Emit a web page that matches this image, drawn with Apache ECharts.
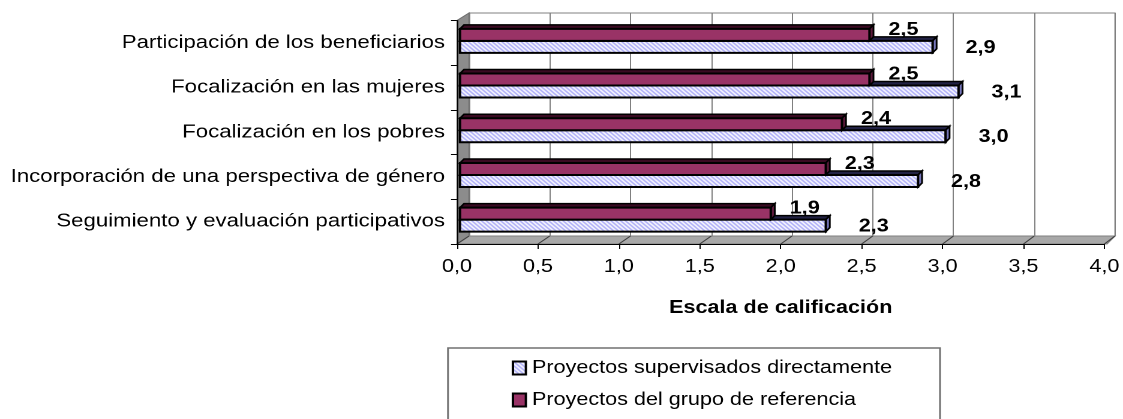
<!DOCTYPE html>
<html>
<head>
<meta charset="utf-8">
<script src="https://cdn.jsdelivr.net/npm/echarts@6/dist/echarts.min.js"></script>
<style>
html, body { margin: 0; padding: 0; background: #fff; overflow: hidden; }
#main { width: 936px; height: 419px; transform: scaleX(1.19979); transform-origin: 0 0; }
</style>
</head>
<body>
<div id="main"></div>
<script>
// datos del gráfico
var categories = [
    'Participación de los beneficiarios',
    'Focalización en las mujeres',
    'Focalización en los pobres',
    'Incorporación de una perspectiva de género',
    'Seguimiento y evaluación participativos'
];
var seriesNames = ['Proyectos supervisados directamente', 'Proyectos del grupo de referencia'];
var directos = [2.92, 3.08, 3.00, 2.83, 2.26];
var referencia = [2.53, 2.53, 2.36, 2.26, 1.92];
var axisMin = 0, axisMax = 4, axisStep = 0.5;
var axisTitle = 'Escala de calificación';

// the picture is stretched horizontally, so the chart is drawn narrower and scaled
var S = 1123 / 936;
var W = 936, H = 419;
var FONT = '"Liberation Sans", Arial, sans-serif';

var front = { left: 457 / S, right: W - 1107 / S, top: 20.5, bottom: H - 244 };
var back = { left: 469 / S, right: W - 1115 / S, top: 13, bottom: H - 236 };

function fmt(v) {
    return v.toFixed(1).replace('.', ',');
}

// hatch pattern for the directly supervised projects
var hatchCanvas = document.createElement('canvas');
hatchCanvas.width = 4;
hatchCanvas.height = 4;
(function () {
    var ctx = hatchCanvas.getContext('2d');
    ctx.fillStyle = '#ffffff';
    ctx.fillRect(0, 0, 4, 4);
    ctx.fillStyle = '#a8a8f8';
    for (var y = 0; y < 4; y++) {
        for (var x = 0; x < 4; x++) {
            var d = ((x - y) % 4 + 4) % 4;
            if (d === 0 || d === 1) ctx.fillRect(x, y, 1, 1);
        }
    }
})();
var hatch = { image: hatchCanvas, repeat: 'repeat' };
var maroon = '#993366';

function barRenderer(upper, fill, topFill, endFill) {
    return function (params, api) {
        var val = api.value(0), cat = api.value(1);
        var p0 = api.coord([0, cat]);
        var p1 = api.coord([val, cat]);
        var shiftX = 3 / S, shiftY = -2;
        var h = 12, dx = 4 / S, dy = 4;
        var x0 = p0[0] + shiftX, x1 = p1[0] + shiftX;
        var cy = p0[1] + shiftY;
        var yTop = upper ? cy - h : cy;
        var yBot = yTop + h;
        var lx, ly;
        if (upper) {
            lx = x1 + dx + 30 / S;
            ly = yTop + 1;
        } else {
            lx = x1 + dx + 44 / S;
            ly = (yTop + yBot) / 2 + 1;
        }
        return {
            type: 'group',
            children: [
                {
                    type: 'polygon',
                    shape: { points: [[x0, yTop], [x1, yTop], [x1 + dx, yTop - dy], [x0 + dx, yTop - dy]] },
                    style: { fill: topFill, stroke: '#000', lineWidth: 1.5 }
                },
                {
                    type: 'polygon',
                    shape: { points: [[x1, yTop], [x1 + dx, yTop - dy], [x1 + dx, yBot - dy], [x1, yBot]] },
                    style: { fill: endFill, stroke: '#000', lineWidth: 1.5 }
                },
                {
                    type: 'rect',
                    shape: { x: x0, y: yTop, width: x1 - x0, height: h },
                    style: { fill: fill, stroke: '#000', lineWidth: 2 }
                },
                {
                    type: 'text',
                    x: lx,
                    y: ly,
                    style: {
                        text: fmt(val),
                        font: 'bold 18px ' + FONT,
                        fill: '#000',
                        align: 'center',
                        verticalAlign: 'middle'
                    }
                }
            ]
        };
    };
}

var chart = echarts.init(document.getElementById('main'), null, { devicePixelRatio: 2 });

chart.setOption({
    animation: false,
    textStyle: { fontFamily: FONT },
    grid: [
        { left: front.left, right: front.right, top: front.top, bottom: front.bottom, show: false },
        {
            left: back.left, right: back.right, top: back.top, bottom: back.bottom,
            show: true, backgroundColor: '#fff', borderColor: '#808080', borderWidth: 1
        }
    ],
    xAxis: [
        {
            type: 'value', gridIndex: 0, min: axisMin, max: axisMax, interval: axisStep, z: 5,
            axisLine: { show: true, lineStyle: { color: '#000', width: 1 } },
            axisTick: { show: true, length: 5, lineStyle: { color: '#000' } },
            axisLabel: { fontSize: 18, color: '#000', margin: 14, formatter: function (v) { return fmt(v); } },
            splitLine: { show: false },
            name: axisTitle,
            nameLocation: 'middle',
            nameGap: 55,
            nameTextStyle: { fontSize: 18, fontWeight: 'bold', color: '#000' }
        },
        {
            type: 'value', gridIndex: 1, min: axisMin, max: axisMax, interval: axisStep,
            axisLine: { show: false }, axisTick: { show: false }, axisLabel: { show: false },
            splitLine: { show: true, lineStyle: { color: '#808080', width: 1 } }
        }
    ],
    yAxis: [
        {
            type: 'category', gridIndex: 0, inverse: true, data: categories, z: 5,
            axisLine: { show: true, lineStyle: { color: '#000', width: 1 } },
            axisTick: { show: true, length: 5, lineStyle: { color: '#000' } },
            axisLabel: { fontSize: 18.5, color: '#000', margin: 10 }
        },
        { type: 'value', gridIndex: 1, show: false, splitLine: { show: false } }
    ],
    legend: {
        orient: 'vertical',
        left: 511.7 / S,
        top: 357,
        padding: 0,
        itemWidth: 13 / S,
        itemHeight: 13,
        itemGap: 10,
        icon: 'rect',
        textStyle: { fontSize: 18, color: '#000', lineHeight: 22 },
        data: [
            { name: seriesNames[0], itemStyle: { color: hatch, borderColor: '#000', borderWidth: 2 } },
            { name: seriesNames[1], itemStyle: { color: maroon, borderColor: '#000', borderWidth: 2 } }
        ]
    },
    series: [
        {
            name: seriesNames[0],
            type: 'custom',
            xAxisIndex: 0, yAxisIndex: 0,
            clip: false,
            itemStyle: { color: hatch },
            encode: { x: 0, y: 1 },
            renderItem: barRenderer(false, hatch, '#222244', '#7777bb'),
            data: directos.map(function (v, i) { return [v, i]; })
        },
        {
            name: seriesNames[1],
            type: 'custom',
            xAxisIndex: 0, yAxisIndex: 0,
            clip: false,
            itemStyle: { color: maroon },
            encode: { x: 0, y: 1 },
            renderItem: barRenderer(true, maroon, '#3a0a22', '#5c1a3c'),
            data: referencia.map(function (v, i) { return [v, i]; })
        }
    ]
});

// 3D walls, floor and the legend frame
var fy = H - front.bottom, by = H - back.bottom;
var decor = [
    {
        type: 'polygon', z: 1,
        shape: { points: [[front.left, front.top], [front.left, fy], [back.left, by], [back.left, back.top]] },
        style: { fill: '#8c8c8c', stroke: '#707070', lineWidth: 1 }
    },
    {
        type: 'polygon', z: 1,
        shape: { points: [[front.left, fy], [W - front.right, fy], [W - back.right, by], [back.left, by]] },
        style: { fill: '#a8a8a8', stroke: '#808080', lineWidth: 1 }
    },
    {
        type: 'rect', z: 1,
        shape: { x: 448 / S, y: 348, width: (940 - 448) / S, height: 120 },
        style: { fill: 'none', stroke: '#707070', lineWidth: 1.5 }
    }
];
for (var v = axisMin; v <= axisMax + 1e-9; v += axisStep) {
    var xf = chart.convertToPixel({ xAxisIndex: 0 }, v);
    var xb = chart.convertToPixel({ xAxisIndex: 1 }, v);
    decor.push({
        type: 'line', z: 2,
        shape: { x1: xf, y1: fy, x2: xb, y2: by },
        style: { stroke: '#404040', lineWidth: 1 }
    });
}
chart.setOption({ graphic: decor });
</script>
</body>
</html>
